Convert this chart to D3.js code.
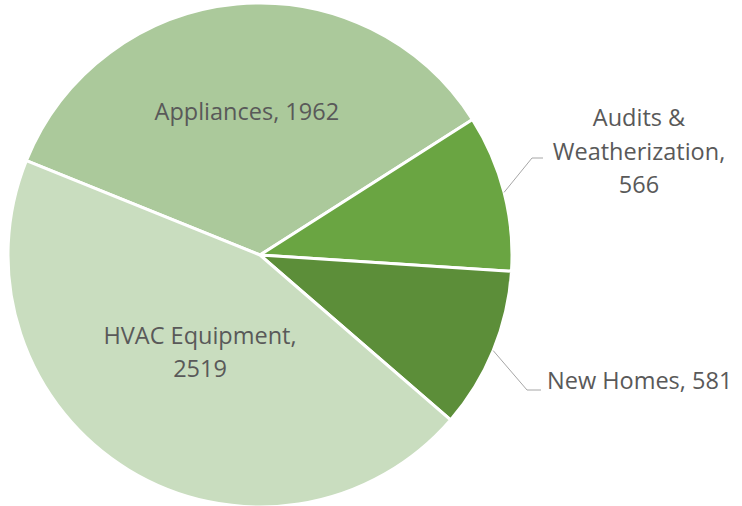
<!DOCTYPE html>
<meta charset="utf-8">
<head>
<script src="https://cdn.jsdelivr.net/npm/d3@7"></script>
<style>
  body { margin: 0; background: #fff; }
  text { font-family: "Open Sans", "Noto Sans", sans-serif; fill: #595959; }
</style>
</head>
<body>
<div id="chart"></div>
<script>
  // data
  var categories = ["Appliances", "Audits & Weatherization", "New Homes", "HVAC Equipment"];
  var values = [1962, 566, 581, 2519];
  var colors = ["#abc99b", "#6aa542", "#5c8e39", "#c9ddbf"];

  var width = 742, height = 506;
  var cx = 260, cy = 255, radius = 252;

  var svg = d3.select("#chart").append("svg")
      .attr("width", width)
      .attr("height", height);

  var g = svg.append("g").attr("transform", "translate(" + cx + "," + cy + ")");

  var startDeg = -68; // first slice rotation
  var pie = d3.pie().sort(null)
      .startAngle(startDeg * Math.PI / 180)
      .endAngle((startDeg + 360) * Math.PI / 180);

  var arcs = pie(values);

  var arc = d3.arc().innerRadius(0).outerRadius(radius);

  g.selectAll(".slice")
    .data(arcs)
    .enter().append("path")
    .attr("class", "slice")
    .attr("d", arc)
    .attr("fill", function (d, i) { return colors[i]; })
    .attr("stroke", "#fff")
    .attr("stroke-width", 3)
    .attr("stroke-linejoin", "round");

  function pt(a, r) { return [Math.sin(a) * r, -Math.cos(a) * r]; }
  function mid(d) { return (d.startAngle + d.endAngle) / 2; }

  var fs = 23.5;

  // inside labels
  var p0 = pt(mid(arcs[0]), 144);
  g.append("text")
    .attr("x", p0[0]).attr("y", p0[1])
    .attr("text-anchor", "middle").attr("dy", "0.35em")
    .style("font-size", fs + "px")
    .text(categories[0] + ", " + values[0]);

  var p3 = pt(mid(arcs[3]), 115);
  var t3 = g.append("text")
    .attr("text-anchor", "middle")
    .style("font-size", fs + "px");
  t3.append("tspan").attr("x", p3[0]).attr("y", p3[1] - 17).attr("dy", "0.35em").text(categories[3] + ",");
  t3.append("tspan").attr("x", p3[0]).attr("y", p3[1] + 16).attr("dy", "0.35em").text(values[3]);

  // outside labels with leader lines
  var lineColor = "#a6a6a6";

  var a1 = pt(mid(arcs[1]), radius);
  g.append("polyline")
    .attr("points", [a1, [272, -97], [283, -97]].map(function (p) { return p.join(","); }).join(" "))
    .attr("fill", "none").attr("stroke", lineColor).attr("stroke-width", 1);
  var t1 = g.append("text").attr("text-anchor", "middle").style("font-size", fs + "px");
  var lines1 = ["Audits &", "Weatherization,", values[1]];
  lines1.forEach(function (s, k) {
    t1.append("tspan").attr("x", 379).attr("y", -137 + k * 33.5).attr("dy", "0.35em").text(s);
  });

  var a2 = pt(mid(arcs[2]), radius);
  g.append("polyline")
    .attr("points", [a2, [267, 135], [281, 135]].map(function (p) { return p.join(","); }).join(" "))
    .attr("fill", "none").attr("stroke", lineColor).attr("stroke-width", 1);
  g.append("text")
    .attr("x", 287).attr("y", 126).attr("dy", "0.35em")
    .style("font-size", fs + "px")
    .text(categories[2] + ", " + values[2]);
</script>
</body>
